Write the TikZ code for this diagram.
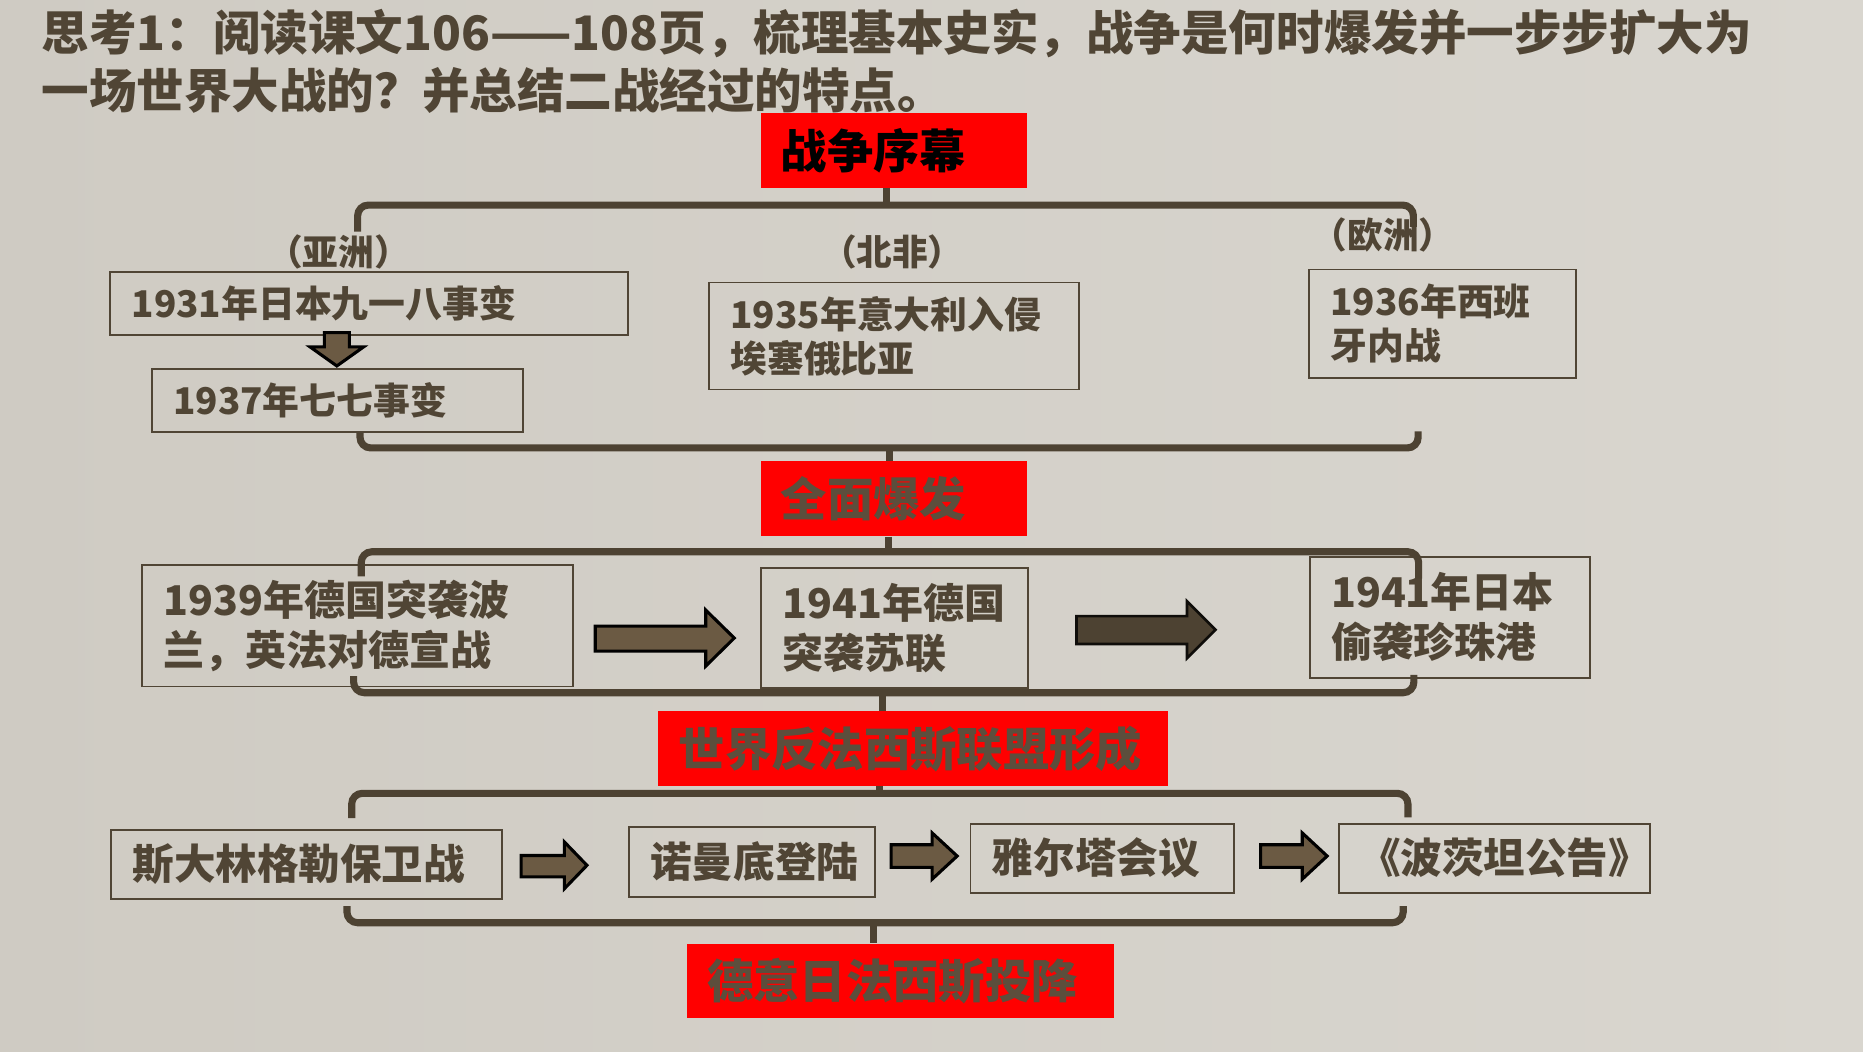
\documentclass[tikz,border=0pt]{standalone}
\usepackage{fontspec}
\setmainfont{Noto Sans CJK SC}
\definecolor{bgA}{RGB}{207,203,195}
\definecolor{bgB}{RGB}{217,214,207}
\definecolor{ink}{RGB}{80,69,53}
\definecolor{brkc}{RGB}{77,66,50}
\definecolor{arrf}{RGB}{107,90,67}
\definecolor{redtext}{RGB}{92,78,60}
\tikzset{
  tbox/.style={draw=ink, line width=1.6pt, anchor=north west, inner xsep=18pt, inner ysep=0pt,
    align=left, text=ink, font=\bfseries\fontsize{31}{37}\selectfont},
  tboxb/.style={tbox, font=\bfseries\fontsize{34.5}{42}\selectfont},
  tboxc/.style={tbox, font=\bfseries\fontsize{35}{40}\selectfont},
  redbox/.style={fill=red, anchor=north west, inner xsep=17pt, inner ysep=0pt, align=left,
    text=redtext, minimum height=63pt, font=\bfseries\fontsize{39}{46}\selectfont},
  lbl/.style={text=ink, font=\bfseries\fontsize{30}{36}\selectfont, inner sep=0pt},
  ttl/.style={text=ink, anchor=west, inner sep=0pt, font=\bfseries\fontsize{40}{46}\selectfont},
  brk/.style={draw=brkc, line width=6pt, rounded corners=9pt},
  stem/.style={draw=brkc, line width=6pt},
  arrs/.style={fill=arrf, draw=black, line width=2.6pt, line join=miter},
  arrd/.style={fill=brkc, draw=black!80!brkc, line width=2.2pt, line join=miter}
}
\begin{document}
\begin{tikzpicture}[x=1pt,y=-1pt]
\useasboundingbox (0,0) rectangle (1568,885.4);
\shade[left color=bgA, right color=bgB] (0,0) rectangle (1568,885.4);

% title
\node[ttl] (t1) at (35,28) {思考1：阅读课文106——108页，梳理基本史实，战争是何时爆发并一步步扩大为};
\node[ttl] (t2) at (35,76) {一场世界大战的？并总结二战经过的特点。};

% section 1
\node[redbox, text=black, text width=190pt] (prelude) at (640,95) {战争序幕};
\node[lbl] (asia) at (285,212) {（亚洲）};
\node[lbl] (nafr) at (751,212) {（北非）};
\node[lbl] (euro) at (1164,198) {（欧洲）};
\node[tbox, minimum height=53pt, text width=400pt] (b1931) at (92,228) {1931年日本九一八事变};
\node[tbox, minimum height=53pt, text width=276pt] (b1937) at (127,310) {1937年七七事变};
\node[tbox, minimum height=90pt, text width=275pt] (b1935) at (596,237) {1935年意大利入侵\\埃塞俄比亚};
\node[tbox, minimum height=91pt, text width=189pt] (b1936) at (1101,226) {1936年西班\\牙内战};
\draw[arrs] (273,280) -- (294,280) -- (294,292) -- (306,292) -- (283.5,308) -- (261,292) -- (273,292) -- cycle;

\draw[brk] (301,195) -- (301,172.6) -- (1189.6,172.6) -- (1189.6,191);
\draw[stem] (746,158) -- (746,172.6);
\draw[brk] (303,364) -- (303,377) -- (1193.6,377) -- (1193.6,363);

% section 2
\node[redbox, text width=190pt] (outbreak) at (640,388) {全面爆发};
\draw[stem] (749,377) -- (749,388);
\node[tboxb, minimum height=102pt, text width=327pt] (b1939) at (118.7,475) {1939年德国突袭波\\兰，英法对德宣战};
\node[tboxb, minimum height=101pt, text width=189pt] (b1941g) at (639.7,477) {1941年德国\\突袭苏联};
\node[tboxb, minimum height=102pt, text width=200pt] (b1941j) at (1101.5,467.7) {1941年日本\\偷袭珍珠港};
\draw[arrs] (501,527) -- (594,527) -- (594,513.5) -- (618,537) -- (594,560.6) -- (594,548) -- (501,548) -- cycle;
\draw[arrd] (906,518.6) -- (999,518.6) -- (999,506) -- (1023,530) -- (999,554) -- (999,542) -- (906,542) -- cycle;

\draw[brk] (304,485) -- (304,464.4) -- (1194,464.4) -- (1194,487);
\draw[stem] (747.6,451.7) -- (747.6,464.4);
\draw[brk] (297.6,569) -- (297.6,583) -- (1190,583) -- (1190,568);

% section 3
\node[redbox, text width=395pt] (alliance) at (554,598.5) {世界反法西斯联盟形成};
\draw[stem] (743,583) -- (743,598.5);
\node[tboxc, minimum height=58pt, text width=293pt] (stal) at (92.7,697.8) {斯大林格勒保卫战};
\node[tboxc, minimum height=59pt, text width=171pt] (norm) at (528.6,695) {诺曼底登陆};
\node[tboxc, minimum height=58pt, text width=186pt] (yalta) at (816,692.5) {雅尔塔会议};
\node[tboxc, minimum height=58pt, text width=228pt, inner xsep=17pt] (potsdam) at (1126,692.5) {《波茨坦公告》};
\draw[arrs] (438.6,720) -- (475,720) -- (475,708.6) -- (494,728.3) -- (475,748) -- (475,738) -- (438.6,738) -- cycle;
\draw[arrs] (750,711) -- (784.5,711) -- (784.5,701) -- (805.6,720.5) -- (784.5,740) -- (784.5,730) -- (750,730) -- cycle;
\draw[arrs] (1061,711) -- (1096,711) -- (1096,701) -- (1117,720.5) -- (1096,740) -- (1096,730) -- (1061,730) -- cycle;

\draw[brk] (296,688.6) -- (296,667.7) -- (1185,667.7) -- (1185,688);
\draw[stem] (740,661.5) -- (740,667.7);
\draw[brk] (292,762.6) -- (292,776.6) -- (1181,776.6) -- (1181,762.6);

\node[redbox, text width=325pt] (surrender) at (578,794) {德意日法西斯投降};
\draw[stem] (735.4,776.6) -- (735.4,794);
\end{tikzpicture}
\end{document}
